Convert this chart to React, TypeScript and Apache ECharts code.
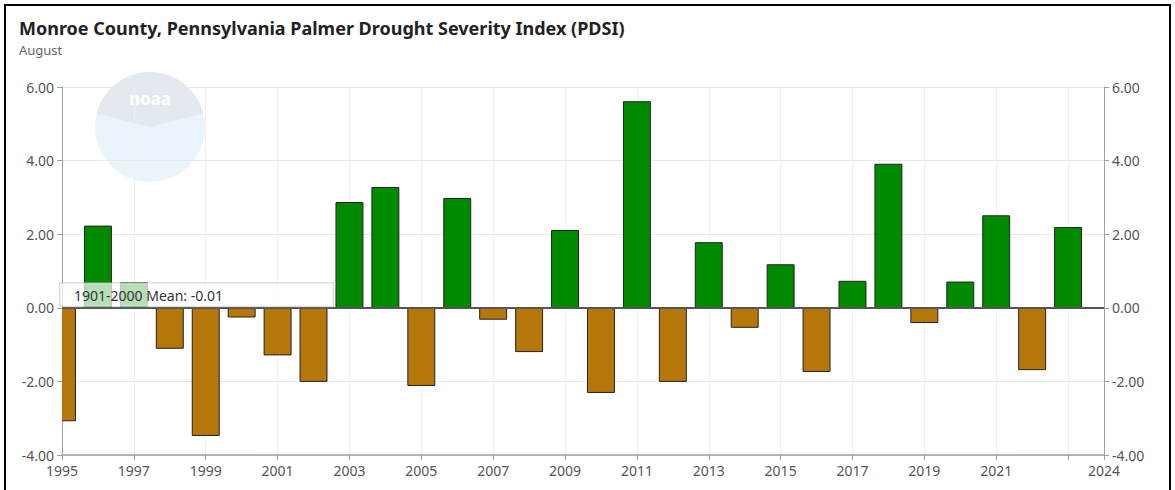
import React, { useEffect, useRef } from "react";
import * as echarts from "echarts";

const years = [1995, 1996, 1997, 1998, 1999, 2000, 2001, 2002, 2003, 2004, 2005, 2006, 2007, 2008, 2009, 2010, 2011, 2012, 2013, 2014, 2015, 2016, 2017, 2018, 2019, 2020, 2021, 2022, 2023];
const pdsi = [-3.07, 2.22, 0.68, -1.1, -3.47, -0.25, -1.28, -2.0, 2.86, 3.27, -2.11, 2.97, -0.31, -1.19, 2.1, -2.3, 5.6, -2.0, 1.77, -0.53, 1.17, -1.73, 0.72, 3.9, -0.4, 0.7, 2.5, -1.68, 2.18];
const meanValue = -0.01;
const meanLabel = "1901-2000 Mean: -0.01";
const titleText = "Monroe County, Pennsylvania Palmer Drought Severity Index (PDSI)";
const subtitleText = "August";
const hiddenYearLabels = [2023];

export default function App() {
  const ref = useRef<HTMLDivElement>(null);
  useEffect(() => {
    if (!ref.current) return;
    const chart = echarts.init(ref.current, null, { renderer: "svg" });
    const font = "'Noto Sans', sans-serif";
    const yAxisBase = {
      type: "value",
      min: -4,
      max: 6,
      interval: 2,
      axisLine: { show: true, onZero: false, lineStyle: { color: "#a0a0a0", width: 1 } },
      axisTick: { show: true, length: 5, lineStyle: { color: "#a0a0a0" } },
      axisLabel: { color: "#555", fontSize: 14, fontFamily: font, formatter: (v: number) => v.toFixed(2) },
    };
    chart.setOption({
      animation: false,
      backgroundColor: "#fff",
      title: {
        text: titleText,
        subtext: subtitleText,
        left: 14,
        top: 14,
        itemGap: 6,
        textStyle: { fontSize: 18, fontWeight: "bold", color: "#222", fontFamily: font },
        subtextStyle: { fontSize: 13, color: "#666", fontFamily: font },
      },
      grid: { left: 62, right: 71, top: 87, bottom: 35, containLabel: false },
      xAxis: {
        type: "value",
        min: 1995,
        max: 2024,
        interval: 2,
        axisLine: { show: true, onZero: false, lineStyle: { color: "#a0a0a0", width: 1.5 } },
        axisTick: { show: true, length: 5, lineStyle: { color: "#a0a0a0" } },
        axisLabel: {
          color: "#555",
          fontSize: 14,
          fontFamily: font,
          margin: 8,
          formatter: (v: number) => (hiddenYearLabels.includes(v) ? "" : String(v)),
        },
        splitLine: { show: true, lineStyle: { color: "#f0f0f0", width: 1 } },
      },
      yAxis: [
        { ...yAxisBase, position: "left", splitLine: { show: true, lineStyle: { color: "#e8e8e8" } } },
        { ...yAxisBase, position: "right", splitLine: { show: false } },
      ],
      graphic: [
        {
          type: "group",
          left: 95,
          top: 72,
          silent: true,
          z: -10,
          children: [
            { type: "circle", shape: { cx: 55, cy: 55, r: 55 }, style: { fill: "rgba(205,228,244,0.4)" } },
            { type: "sector", shape: { cx: 55, cy: 55, r: 55, startAngle: Math.PI * 1.08, endAngle: Math.PI * 1.92 }, style: { fill: "rgba(222,222,228,0.5)" } },
            { type: "text", style: { x: 55, y: 18, text: "noaa", align: "center", fill: "rgba(255,255,255,0.95)", fontSize: 17, fontWeight: "bold", fontFamily: font } },
          ],
        },
        {
          type: "rect",
          silent: true,
          z: 100,
          shape: { x: 5, y: 5, width: 1165, height: 600 },
          style: { fill: "none", stroke: "#000", lineWidth: 2 },
        },
      ],
      series: [
        {
          type: "custom",
          yAxisIndex: 0,
          clip: true,
          encode: { x: 0, y: 1 },
          data: years.map((y, i) => [y, pdsi[i]]),
          renderItem: (params: any, api: any) => {
            const x = api.value(0);
            const v = api.value(1);
            const base = api.coord([x, 0]);
            const top = api.coord([x, v]);
            const w = api.size([1, 0])[0] * 0.75;
            return {
              type: "rect",
              shape: {
                x: base[0] - w / 2,
                y: Math.min(base[1], top[1]),
                width: w,
                height: Math.abs(top[1] - base[1]),
              },
              style: {
                fill: v >= 0 ? "#008a00" : "#b5770a",
                stroke: "#222",
                lineWidth: 1,
              },
            };
          },
          markLine: {
            silent: true,
            symbol: "none",
            lineStyle: { color: "#555", width: 2, type: "solid" },
            label: {
              show: true,
              position: "insideStartTop",
              formatter: meanLabel,
              color: "#333",
              fontSize: 14,
              fontFamily: font,
              backgroundColor: "rgba(255,255,255,0.72)",
              borderColor: "rgba(190,190,190,0.6)",
              borderWidth: 1,
              padding: [5, 110, 4, 14],
              distance: [-2, 2],
            },
            data: [{ yAxis: meanValue }],
          },
        },
      ],
    });
    return () => chart.dispose();
  }, []);
  return <div ref={ref} style={{ position: "fixed", left: 0, top: 0, width: 1175, height: 490 }} />;
}
